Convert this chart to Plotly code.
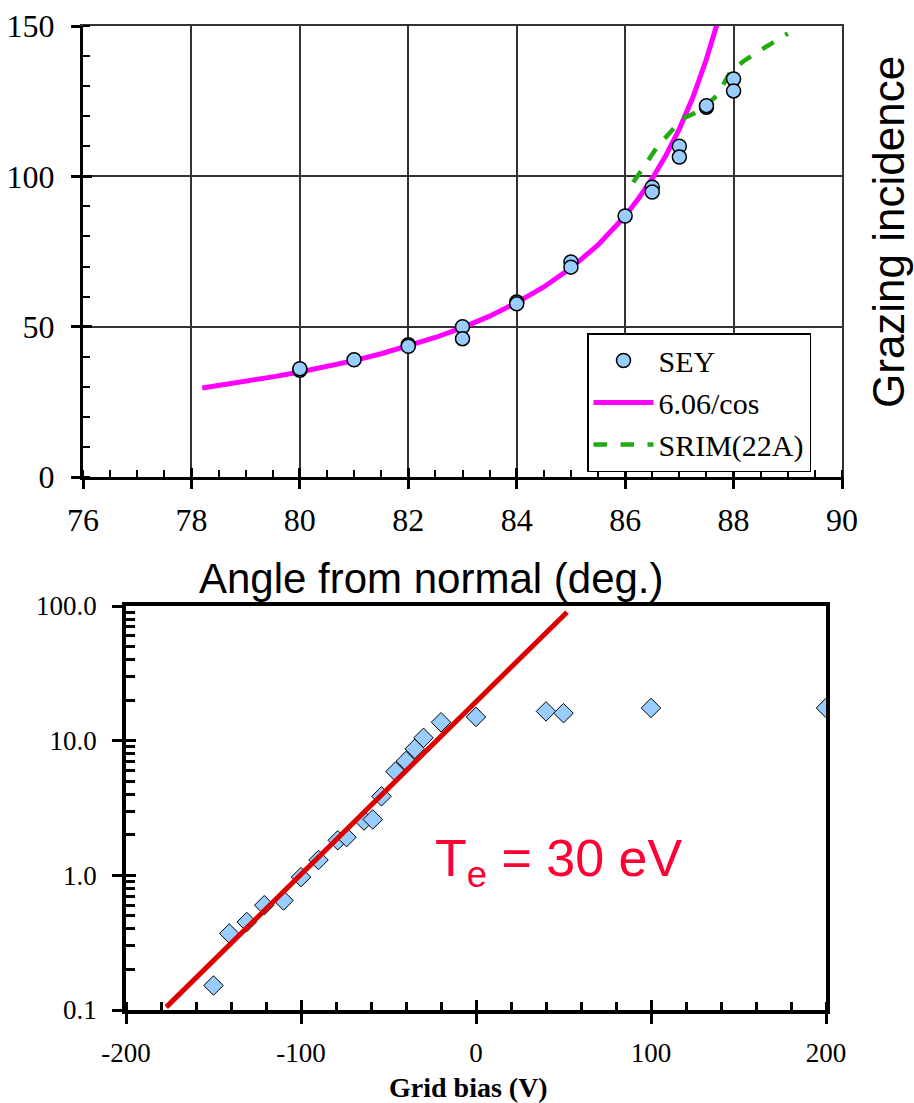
import plotly.graph_objects as go

# ---------------- Top chart data ----------------
sey_angle = [80, 80, 81, 82, 82, 83, 83, 84, 84, 85, 85, 86, 86.5, 86.5, 87, 87, 87.5, 87.5, 88, 88]
sey_val = [35.5, 36.0, 39.0, 44.0, 43.5, 50.0, 46.0, 58.2, 57.6, 71.5, 69.8, 86.8, 96.4, 94.8,
           110.0, 106.4, 123.0, 123.5, 132.4, 128.4]

cos_angle = [78.2, 78.5, 79, 79.5, 80, 80.5, 81, 81.5, 82, 82.5, 83, 83.5, 84, 84.5, 85, 85.5,
             86, 86.25, 86.5, 86.75, 87, 87.25, 87.5, 87.7]
cos_val = [29.6, 30.4, 31.8, 33.3, 34.9, 36.7, 38.7, 41.0, 43.5, 46.4, 49.7, 53.5, 58.0, 63.2,
           69.5, 77.2, 86.8, 92.7, 99.3, 106.9, 115.8, 126.3, 139.0, 151.0]

srim_angle = [86.15, 86.4, 86.6, 86.9, 87.1, 87.4, 87.7, 87.95, 88.2, 88.5, 89.0]
srim_val = [98, 105, 110, 116, 119.5, 122, 127, 135, 138.5, 142, 147.5]

# ---------------- Bottom chart data ----------------
bias = [-150, -141, -131, -121, -110, -100, -90, -79, -74, -64, -59, -54, -46, -40, -35, -30,
        -20, 0, 40, 50, 100, 200]
current = [0.152, 0.37, 0.45, 0.60, 0.65, 0.97, 1.30, 1.82, 1.92, 2.55, 2.6, 3.86, 5.9, 7.06,
           8.7, 10.5, 13.7, 15.0, 16.5, 16.0, 17.5, 17.5]

fit_bias = [-177, 52]
fit_val = [0.105, 90]

x2_tickvals = [-200, -100, 0, 100, 200]
x2_ticktext = ["-200", "-100", "0", "100", "200"]
y_tickvals = [0.1, 1, 10, 100]
y_ticktext = ["0.1", "1.0", "10.0", "100.0"]
y_minorvals = [m * 10.0 ** e for e in (-1, 0, 1) for m in range(2, 10)]

W, H = 914, 1103
SERIF = "Liberation Serif, Times New Roman, serif"
SANS = "Liberation Sans, Arial, sans-serif"

def px_x(p):
    return p / W

def px_y(p):
    return 1 - p / H

top_xdom = [px_x(83), px_x(842)]
top_ydom = [px_y(477), px_y(26)]
bot_xdom = [px_x(126), px_x(826)]
bot_ydom = [px_y(1010), px_y(606)]

fig = go.Figure()

# top chart traces
fig.add_trace(go.Scatter(x=cos_angle, y=cos_val, mode="lines", name="6.06/cos",
                         line=dict(color="#FF00FF", width=5), legendrank=2,
                         xaxis="x", yaxis="y"))
fig.add_trace(go.Scatter(x=srim_angle, y=srim_val, mode="lines", name="SRIM(22A)",
                         line=dict(color="#22AA11", width=4.5, dash="dash"), legendrank=3,
                         xaxis="x", yaxis="y"))
fig.add_trace(go.Scatter(x=sey_angle, y=sey_val, mode="markers", name="SEY",
                         marker=dict(symbol="circle", size=14, color="#99CCFF",
                                     line=dict(color="black", width=1.5)),
                         legendrank=1, xaxis="x", yaxis="y"))

# bottom chart traces
fig.add_trace(go.Scatter(x=bias, y=current, mode="markers", showlegend=False,
                         marker=dict(symbol="diamond", size=15, color="#99CCFF",
                                     line=dict(color="black", width=1)),
                         xaxis="x2", yaxis="y2"))
fig.add_trace(go.Scatter(x=fit_bias, y=fit_val, mode="lines", showlegend=False,
                         line=dict(color="#DD0000", width=5), xaxis="x2", yaxis="y2"))

# empty traces for overlay axes (inner tick halves, thin frame)
for xa, ya in (("x3", "y3"), ("x4", "y4"), ("x5", "y5")):
    fig.add_trace(go.Scatter(x=[None], y=[None], showlegend=False, hoverinfo="skip",
                             xaxis=xa, yaxis=ya))

tickfont_top = dict(family=SERIF, size=32, color="black")
tickfont_bot = dict(family=SERIF, size=27, color="black")

fig.update_layout(
    width=W, height=H,
    margin=dict(l=0, r=0, t=0, b=0),
    paper_bgcolor="white", plot_bgcolor="white",
    showlegend=True,
    legend=dict(x=px_x(587), y=px_y(333), xanchor="left", yanchor="top",
                bgcolor="white", bordercolor="black", borderwidth=1.5,
                font=dict(family=SERIF, size=30, color="black"),
                itemwidth=60, tracegroupgap=0),
    xaxis=dict(domain=top_xdom, anchor="y", range=[76, 90], dtick=2, tick0=76,
               automargin=False,
               showgrid=True, gridcolor="#333333", gridwidth=1.5,
               showline=True, linecolor="black", linewidth=3,
               ticks="outside", ticklen=9, tickwidth=3, tickcolor="black",
               tickfont=tickfont_top, ticklabelstandoff=4,
               minor=dict(dtick=0.5, ticks="inside", ticklen=7, tickwidth=2,
                          tickcolor="black", showgrid=False),
               zeroline=False),
    yaxis=dict(domain=top_ydom, anchor="x", range=[0, 150], dtick=50,
               automargin=False,
               showgrid=True, gridcolor="#333333", gridwidth=1.5,
               showline=True, linecolor="black", linewidth=3,
               ticks="outside", ticklen=9, tickwidth=3, tickcolor="black",
               tickfont=tickfont_top, ticklabelstandoff=10,
               minor=dict(dtick=10, ticks="inside", ticklen=7, tickwidth=2,
                          tickcolor="black", showgrid=False),
               zeroline=False),
    xaxis3=dict(overlaying="x", anchor="y3", range=[76, 90], dtick=2, tick0=76,
                automargin=False,
                showgrid=False, showline=False, ticks="inside", ticklen=9, tickwidth=3,
                tickcolor="black", showticklabels=False, zeroline=False),
    yaxis3=dict(overlaying="y", anchor="x3", range=[0, 150], dtick=50,
                automargin=False,
                showgrid=False, showline=False, ticks="inside", ticklen=9, tickwidth=3,
                tickcolor="black", showticklabels=False, zeroline=False),
    xaxis5=dict(overlaying="x", anchor="y5", side="top", range=[76, 90],
                automargin=False, showgrid=False, showline=True, linecolor="#333333",
                linewidth=1.5, ticks="", showticklabels=False, zeroline=False),
    yaxis5=dict(overlaying="y", anchor="x5", side="right", range=[0, 150],
                automargin=False, showgrid=False, showline=True, linecolor="#333333",
                linewidth=1.5, ticks="", showticklabels=False, zeroline=False),
    xaxis2=dict(domain=bot_xdom, anchor="y2", range=[-200, 200],
                tickmode="array", tickvals=x2_tickvals, ticktext=x2_ticktext,
                automargin=False,
                showgrid=False, showline=True, mirror=True, linecolor="black", linewidth=3.5,
                ticks="outside", ticklen=10, tickwidth=3, tickcolor="black",
                tickfont=tickfont_bot, ticklabelstandoff=6,
                minor=dict(tick0=-200, dtick=20, ticks="inside", ticklen=8, tickwidth=2.5,
                           tickcolor="black", showgrid=False),
                zeroline=False),
    yaxis2=dict(domain=bot_ydom, anchor="x2", type="log", range=[-1, 2],
                tickmode="array", tickvals=y_tickvals, ticktext=y_ticktext,
                automargin=False,
                showgrid=False, showline=True, mirror=True, linecolor="black", linewidth=3.5,
                ticks="outside", ticklen=10, tickwidth=3, tickcolor="black",
                tickfont=tickfont_bot, ticklabelstandoff=10,
                minor=dict(tickmode="array", tickvals=y_minorvals, ticks="inside",
                           ticklen=9, tickwidth=2.5, tickcolor="black", showgrid=False),
                zeroline=False),
    xaxis4=dict(overlaying="x2", anchor="y4", range=[-200, 200],
                tickmode="array", tickvals=x2_tickvals,
                automargin=False,
                showgrid=False, showline=False, ticks="inside", ticklen=10, tickwidth=3,
                tickcolor="black", showticklabels=False, zeroline=False),
    yaxis4=dict(overlaying="y2", anchor="x4", type="log", range=[-1, 2],
                tickmode="array", tickvals=y_tickvals, automargin=False,
                showgrid=False, showline=False, ticks="inside",
                ticklen=10, tickwidth=3, tickcolor="black", showticklabels=False,
                zeroline=False),
)

fig.add_annotation(text="Angle from normal (deg.)", xref="paper", yref="paper",
                   x=px_x(431), y=px_y(578), xanchor="center", yanchor="middle",
                   showarrow=False, font=dict(family=SANS, size=42, color="black"))
fig.add_annotation(text="Grazing incidence", xref="paper", yref="paper",
                   x=px_x(889), y=px_y(232), xanchor="center", yanchor="middle",
                   textangle=-90, showarrow=False,
                   font=dict(family=SANS, size=44, color="black"))
fig.add_annotation(text="<b>Grid bias (V)</b>", xref="paper", yref="paper",
                   x=px_x(468), y=px_y(1087), xanchor="center", yanchor="middle",
                   showarrow=False, font=dict(family=SERIF, size=28, color="black"))
fig.add_annotation(text="T<sub>e</sub> = 30 eV", xref="paper", yref="paper",
                   x=px_x(433), y=px_y(862), xanchor="left", yanchor="middle",
                   showarrow=False, font=dict(family=SANS, size=52, color="#FF0033"))

fig.write_html("out.html", config={"displayModeBar": False},
               post_script="document.body.style.margin='0';document.body.style.overflow='hidden';")
